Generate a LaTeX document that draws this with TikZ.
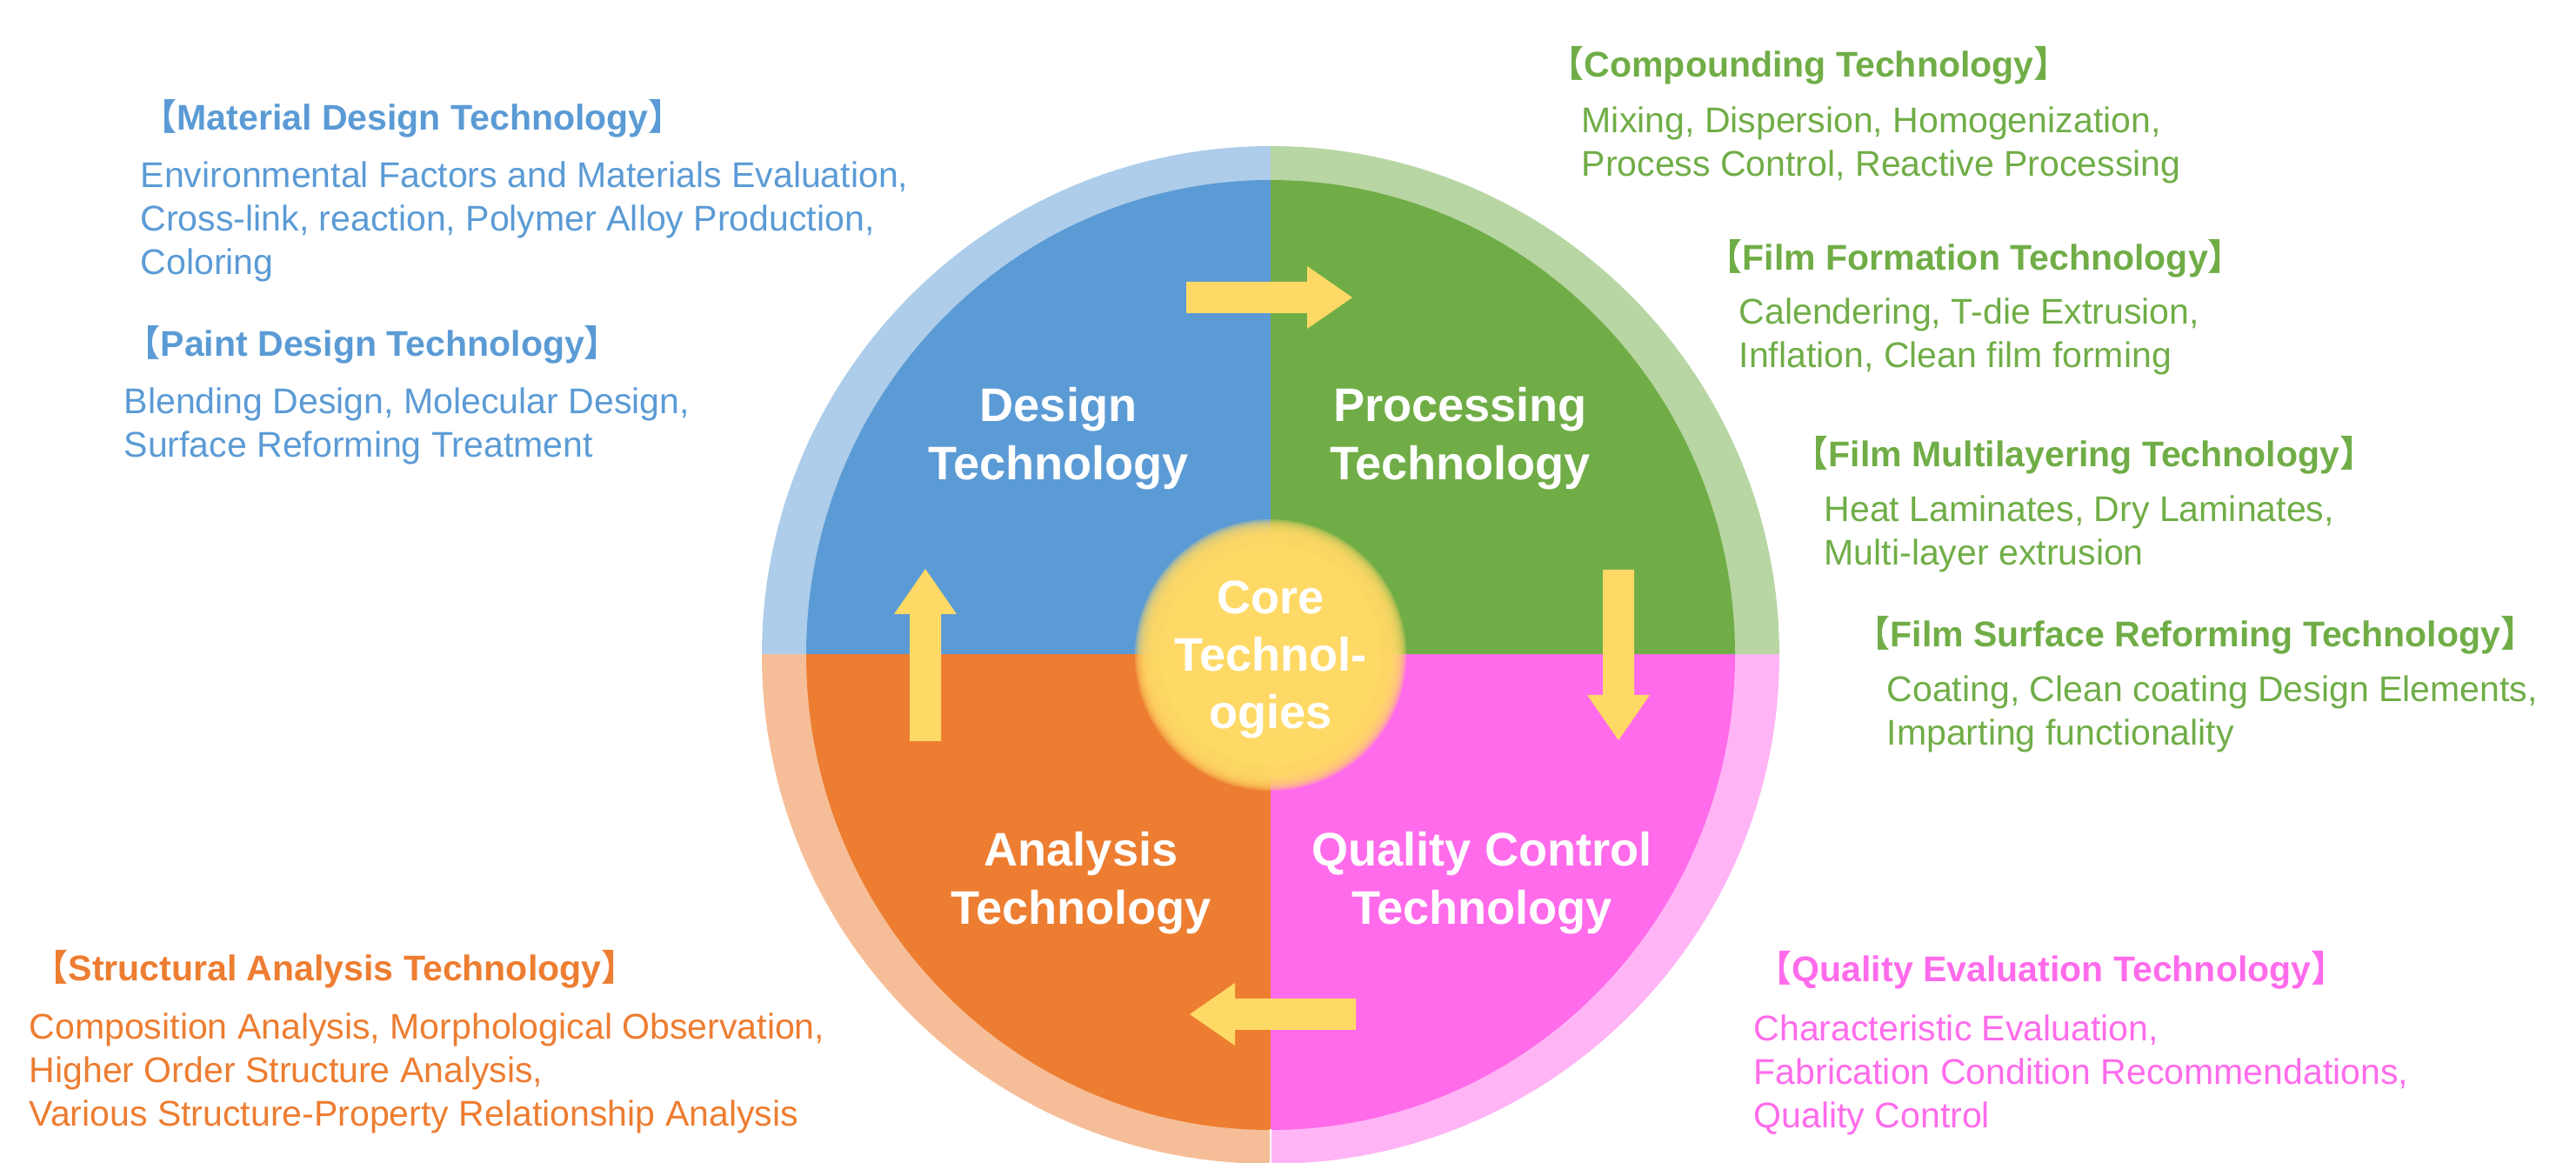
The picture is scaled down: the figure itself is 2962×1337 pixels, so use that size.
\documentclass[tikz,border=0pt]{standalone}
\usepackage{fontspec}
\setmainfont{Liberation Sans}
\newfontfamily\cjkfont{Noto Sans CJK JP}
\usepackage{tikz}

\definecolor{designblue}{HTML}{5B9BD5}
\definecolor{procgreen}{HTML}{70AD47}
\definecolor{anaorange}{HTML}{ED7D31}
\definecolor{qcpink}{HTML}{FF6BEB}
\definecolor{coreyellow}{HTML}{FFD966}

\newcommand{\lbk}{{\cjkfont 【}}
\newcommand{\rbk}{{\cjkfont 】}}

\tikzset{
  headtext/.style={anchor=base west, inner sep=0pt, font=\fontsize{11.67}{14.2}\selectfont\bfseries},
  bodytext/.style={anchor=north west, inner sep=0pt, align=left, font=\fontsize{11.67}{14.2}\selectfont},
  quadtext/.style={anchor=north, inner sep=0pt, align=center, text=white, font=\fontsize{15.4}{19.06}\selectfont\bfseries},
}

\begin{document}
\begin{tikzpicture}[x=0.01cm, y=-0.01cm]
\useasboundingbox (0,0) rectangle (2962,1337);

% four quadrants, ring and inner disc
\begin{scope}
\clip (1461,753) rectangle (861,153);
\fill [designblue!50] (1461,753) circle (585);
\fill [designblue] (1461,753) ellipse (534 and 546);
\end{scope}
\begin{scope}
\clip (1461,753) rectangle (2061,153);
\fill [procgreen!50] (1461,753) circle (585);
\fill [procgreen] (1461,753) ellipse (534 and 546);
\end{scope}
\begin{scope}
\clip (1461,753) rectangle (861,1353);
\fill [anaorange!50] (1461,753) circle (585);
\fill [anaorange] (1461,753) ellipse (534 and 546);
\end{scope}
\begin{scope}
\clip (1461,753) rectangle (2061,1353);
\fill [qcpink!50] (1461,753) circle (585);
\fill [qcpink] (1461,753) ellipse (534 and 546);
\end{scope}
\draw [white, line width=0.4pt] (1461,1298) -- (1461,1340);

% soft glow in the middle
\foreach \r in {156,154,...,128}
  \fill [coreyellow, opacity=0.3] (1461,753) circle (\r);
\fill [coreyellow] (1461,753) circle (127);

% block arrows
\fill [coreyellow] (1364,324) -- (1503,324) -- (1503,306) -- (1555,342) -- (1503,378) -- (1503,360) -- (1364,360) -- cycle;
\fill [coreyellow] (1843,655) -- (1879,655) -- (1879,799) -- (1897,799) -- (1861,851) -- (1825,799) -- (1843,799) -- cycle;
\fill [coreyellow] (1559,1148) -- (1420,1148) -- (1420,1130) -- (1368,1166) -- (1420,1202) -- (1420,1184) -- (1559,1184) -- cycle;
\fill [coreyellow] (1046,852) -- (1046,706) -- (1028,706) -- (1064,654) -- (1100,706) -- (1082,706) -- (1082,852) -- cycle;

\node [quadtext] (design) at (1217,445) {Design\\Technology};
\node [quadtext] (processing) at (1679,445) {Processing\\Technology};
\node [quadtext] (analysis) at (1243,956) {Analysis\\Technology};
\node [quadtext] (quality) at (1704,956) {Quality Control\\Technology};
\node [quadtext, font=\fontsize{15.4}{18.78}\selectfont\bfseries] (core) at (1461,667) {Core\\Technol-\\ogies};

% design side
\node [headtext, text=designblue] (matHead) at (162,150) {\lbk Material Design Technology\rbk};
\node [bodytext, text=designblue] (matBody) at (161,185) {Environmental Factors and Materials Evaluation,\\Cross-link, reaction, Polymer Alloy Production,\\Coloring};
\node [headtext, text=designblue] (paintHead) at (143,410) {\lbk Paint Design Technology\rbk};
\node [bodytext, text=designblue] (paintBody) at (142,445) {Blending Design, Molecular Design,\\Surface Reforming Treatment};

% processing side
\node [headtext, text=procgreen] (compHead) at (1780,89) {\lbk Compounding Technology\rbk};
\node [bodytext, text=procgreen] (compBody) at (1818,122) {Mixing, Dispersion, Homogenization,\\Process Control, Reactive Processing};
\node [headtext, text=procgreen] (filmHead) at (1962,311) {\lbk Film Formation Technology\rbk};
\node [bodytext, text=procgreen] (filmBody) at (1999,342) {Calendering, T-die Extrusion,\\Inflation, Clean film forming};
\node [headtext, text=procgreen] (multiHead) at (2061,537) {\lbk Film Multilayering Technology\rbk};
\node [bodytext, text=procgreen] (multiBody) at (2097,569) {Heat Laminates, Dry Laminates,\\Multi-layer extrusion};
\node [headtext, text=procgreen] (surfHead) at (2132,744) {\lbk Film Surface Reforming Technology\rbk};
\node [bodytext, text=procgreen] (surfBody) at (2169,776) {Coating, Clean coating Design Elements,\\Imparting functionality};

% analysis side
\node [headtext, text=anaorange] (structHead) at (37,1128) {\lbk Structural Analysis Technology\rbk};
\node [bodytext, text=anaorange] (structBody) at (33,1164) {Composition Analysis, Morphological Observation,\\Higher Order Structure Analysis,\\Various Structure-Property Relationship Analysis};

% quality side
\node [headtext, text=qcpink] (evalHead) at (2019,1129) {\lbk Quality Evaluation Technology\rbk};
\node [bodytext, text=qcpink] (evalBody) at (2016,1166) {Characteristic Evaluation,\\Fabrication Condition Recommendations,\\Quality Control};
\end{tikzpicture}
\end{document}
